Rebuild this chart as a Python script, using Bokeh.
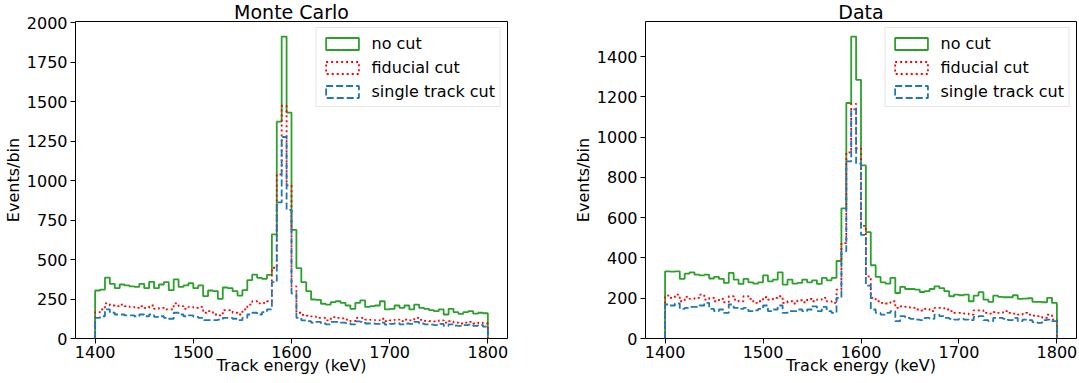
import numpy as np
from bokeh.plotting import figure
from bokeh.layouts import row
from bokeh.models import Range1d, FixedTicker, Legend, LegendItem
from bokeh.embed import file_html
from bokeh.resources import INLINE

# ---------------- data ----------------
bin_edges = np.arange(1400, 1805, 5)  # 80 bins of 5 keV
x_ticks = [1400, 1500, 1600, 1700, 1800]
mc_y_ticks = [0, 250, 500, 750, 1000, 1250, 1500, 1750, 2000]
data_y_ticks = [0, 200, 400, 600, 800, 1000, 1200, 1400]
labels = ["no cut", "fiducial cut", "single track cut"]

mc_nocut = [304, 310, 385, 346, 319, 342, 336, 330, 327, 346,
            319, 359, 319, 342, 357, 306, 374, 327, 336, 350,
            319, 336, 268, 304, 300, 251, 323, 319, 300, 272,
            306, 370, 405, 384, 378, 403, 660, 1373, 1912, 1430,
            688, 446, 357, 300, 247, 245, 220, 215, 230, 236,
            226, 209, 188, 226, 241, 200, 205, 209, 236, 184,
            188, 209, 194, 209, 184, 215, 194, 188, 180, 173,
            184, 152, 188, 167, 156, 167, 173, 158, 163, 160]
mc_fiducial = [167, 184, 222, 209, 205, 215, 205, 200, 194, 205,
               194, 209, 188, 194, 184, 184, 222, 205, 188, 200,
               194, 200, 163, 173, 152, 146, 180, 180, 163, 152,
               184, 215, 236, 222, 226, 236, 448, 1040, 1474, 970,
               330, 163, 150, 145, 140, 130, 130, 115, 135, 130,
               128, 120, 110, 130, 130, 120, 118, 115, 125, 110,
               115, 120, 110, 120, 115, 130, 118, 112, 110, 108,
               115, 100, 110, 100, 95, 100, 105, 95, 100, 95]
mc_single = [131, 141, 184, 163, 152, 152, 146, 146, 141, 152,
             141, 152, 137, 141, 131, 125, 163, 152, 141, 146,
             137, 131, 116, 116, 116, 120, 131, 131, 125, 116,
             131, 152, 163, 152, 167, 184, 357, 862, 1276, 815,
             285, 131, 115, 110, 100, 105, 95, 90, 105, 105,
             100, 98, 90, 108, 105, 95, 95, 92, 100, 88,
             92, 98, 90, 95, 92, 105, 95, 90, 88, 85,
             92, 80, 90, 82, 80, 85, 88, 80, 85, 75]

data_nocut = [334, 332, 334, 296, 322, 329, 317, 314, 317, 298,
              306, 296, 276, 326, 293, 271, 296, 279, 273, 279,
              314, 284, 293, 329, 268, 293, 273, 276, 293, 279,
              289, 271, 301, 289, 301, 385, 647, 1170, 1500, 1285,
              860, 529, 364, 306, 279, 273, 301, 226, 256, 246,
              246, 243, 231, 235, 246, 259, 250, 235, 210, 218,
              215, 218, 185, 213, 230, 193, 182, 213, 207, 205,
              205, 215, 197, 198, 200, 182, 182, 180, 202, 177]
data_fiducial = [213, 202, 218, 185, 207, 197, 202, 218, 193, 202,
                 185, 197, 180, 210, 193, 185, 210, 197, 177, 185,
                 205, 193, 202, 210, 177, 185, 174, 190, 180, 197,
                 185, 193, 202, 185, 177, 243, 474, 925, 1166, 945,
                 560, 309, 202, 185, 177, 174, 185, 152, 160, 157,
                 152, 144, 139, 147, 136, 152, 152, 144, 136, 127,
                 127, 124, 119, 140, 140, 127, 124, 131, 127, 136,
                 127, 124, 119, 127, 119, 114, 111, 102, 119, 94]
data_single = [169, 164, 174, 147, 152, 157, 157, 164, 177, 147,
               136, 144, 127, 169, 152, 147, 152, 136, 140, 147,
               164, 136, 144, 164, 127, 136, 136, 144, 136, 144,
               160, 136, 157, 136, 127, 202, 433, 880, 1138, 870,
               515, 263, 144, 127, 119, 127, 136, 86, 111, 102,
               98, 94, 91, 102, 98, 119, 111, 102, 98, 94,
               98, 94, 91, 107, 111, 91, 86, 102, 102, 98,
               91, 102, 86, 94, 91, 81, 78, 91, 94, 86]

# ---------------- styling ----------------
FONT = "DejaVu Sans"
COLORS = ["#2ca02c", "red", "#1f77b4"]
DASHES = ["solid", "2 3", "7 3"]
X_LO, X_HI = 1380, 1820
FIG_H = 383


def step_xy(edges, vals):
    xs = np.repeat(edges, 2)
    ys = np.concatenate([[0], np.repeat(np.asarray(vals, dtype=float), 2), [0]])
    return xs, ys


def make_panel(title, series, yticks, frame_w, mbl, mbr):
    ymax = max(series[0]) * 1.05
    p = figure(frame_width=frame_w, height=FIG_H, output_backend="svg", toolbar_location=None,
               x_range=Range1d(X_LO, X_HI), y_range=Range1d(0, ymax),
               min_border_left=mbl, min_border_right=mbr, min_border_top=0, min_border_bottom=45)
    p.title.text = title
    p.title.align = "center"
    p.title.text_font = FONT
    p.title.text_font_size = "19px"
    p.title.text_font_style = "normal"
    p.title.text_color = "black"
    p.title.standoff = -3
    p.xgrid.visible = False
    p.ygrid.visible = False
    p.outline_line_color = "black"
    p.outline_line_width = 1
    p.outline_line_alpha = 1
    p.background_fill_color = "white"
    p.border_fill_color = "white"
    for ax in (p.xaxis[0], p.yaxis[0]):
        ax.axis_line_color = None
        ax.major_tick_out = 5
        ax.major_tick_in = 0
        ax.minor_tick_out = 0
        ax.minor_tick_in = 0
        ax.major_tick_line_color = "black"
        ax.major_tick_line_width = 1
        ax.major_label_text_font = FONT
        ax.major_label_text_font_size = "16px"
        ax.major_label_text_color = "black"
        ax.axis_label_text_font = FONT
        ax.axis_label_text_font_size = "16px"
        ax.axis_label_text_font_style = "normal"
        ax.axis_label_text_color = "black"
    p.xaxis.major_label_standoff = 2
    p.xaxis.axis_label_standoff = -5
    p.yaxis.major_label_standoff = 3
    p.yaxis.axis_label_standoff = 1
    p.xaxis.ticker = FixedTicker(ticks=x_ticks)
    p.yaxis.ticker = FixedTicker(ticks=yticks)
    p.xaxis.axis_label = "Track energy (keV)"
    p.yaxis.axis_label = "Events/bin"

    items = []
    for vals, col, dash, lab in zip(series, COLORS, DASHES, labels):
        xs, ys = step_xy(bin_edges, vals)
        p.line(xs, ys, line_color=col, line_width=1.8, line_dash=dash)
        # legend proxy: a hollow box glyph with no drawable data
        r = p.quad(left=[np.nan], right=[np.nan], top=[np.nan], bottom=[np.nan], fill_color=None,
                   line_color=col, line_width=1.8, line_dash=dash)
        items.append(LegendItem(label=lab, renderers=[r]))

    legend = Legend(items=items, location="top_right", glyph_width=41, glyph_height=15,
                    label_standoff=9, label_text_font=FONT, label_text_font_size="16px",
                    label_text_color="black", label_height=20, spacing=4, padding=5, margin=6,
                    border_line_color="#cccccc", border_line_width=1,
                    background_fill_color="white", background_fill_alpha=0.8)
    p.add_layout(legend)
    return p


p1 = make_panel("Monte Carlo", [mc_nocut, mc_fiducial, mc_single], mc_y_ticks, 432, 74, 63)
p2 = make_panel("Data", [data_nocut, data_fiducial, data_single], data_y_ticks, 431, 74, 3)

layout = row(p1, p2)
open("out.html", "w").write(file_html(layout, INLINE))
